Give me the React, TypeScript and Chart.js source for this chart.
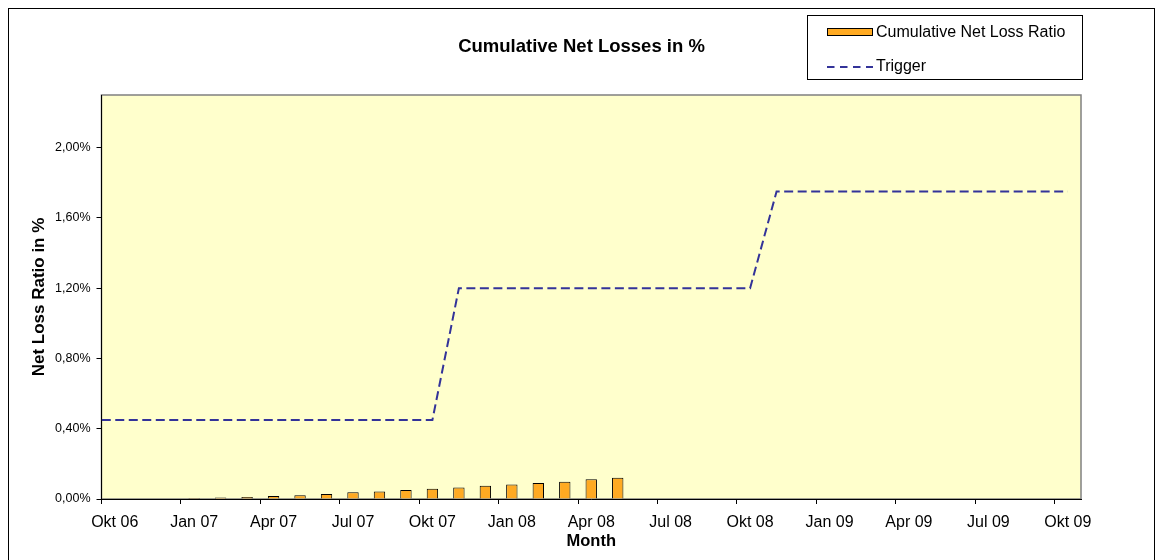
import React, { useEffect, useRef } from "react";
import { Chart, registerables } from "chart.js";

Chart.register(...registerables);

// ---- data ----
const chartTitle = "Cumulative Net Losses in %";
const xAxisTitle = "Month";
const yAxisTitle = "Net Loss Ratio in %";

// first category (Sep 06) is only a lead-in point for the trigger line, hidden by the axis min
const months = [
  "Sep 06", "Okt 06", "Nov 06", "Dez 06",
  "Jan 07", "Feb 07", "Mär 07", "Apr 07", "Mai 07", "Jun 07", "Jul 07", "Aug 07", "Sep 07", "Okt 07", "Nov 07", "Dez 07",
  "Jan 08", "Feb 08", "Mär 08", "Apr 08", "Mai 08", "Jun 08", "Jul 08", "Aug 08", "Sep 08", "Okt 08", "Nov 08", "Dez 08",
  "Jan 09", "Feb 09", "Mär 09", "Apr 09", "Mai 09", "Jun 09", "Jul 09", "Aug 09", "Sep 09", "Okt 09",
];
const firstMonth = "Okt 06";

// cumulative net loss ratio in %
const lossRatio = [
  null, null, null, null,
  0.006, 0.008, 0.011, 0.017, 0.021, 0.028, 0.038, 0.042, 0.051, 0.059, 0.066, 0.076,
  0.083, 0.091, 0.098, 0.112, 0.121, null, null, null, null, null, null, null,
  null, null, null, null, null, null, null, null, null, null,
];

// trigger level in %
const trigger = [
  0.45, 0.45, 0.45, 0.45,
  0.45, 0.45, 0.45, 0.45, 0.45, 0.45, 0.45, 0.45, 0.45, 0.45, 1.2, 1.2,
  1.2, 1.2, 1.2, 1.2, 1.2, 1.2, 1.2, 1.2, 1.2, 1.2, 1.75, 1.75,
  1.75, 1.75, 1.75, 1.75, 1.75, 1.75, 1.75, 1.75, 1.75, 1.75,
];

const yTicks = [0, 0.4, 0.8, 1.2, 1.6, 2.0];
const yMax = 2.3;

const barLabel = "Cumulative Net Loss Ratio";
const lineLabel = "Trigger";

// ---- styling ----
const W = 1147;
const H = 560;
const FONT = "'Liberation Sans', Arial, Helvetica, sans-serif";
const BAR_FILL = "#FFAA22";
const LINE_COLOR = "#333399";
const PLOT_BG = "#FFFFCC";

export default function App() {
  const ref = useRef<HTMLCanvasElement>(null);

  useEffect(() => {
    document.documentElement.style.overflow = "hidden";
    document.body.style.overflow = "hidden";
    const canvas = ref.current;
    if (!canvas) return;

    Chart.defaults.font.family = FONT;
    Chart.defaults.color = "#000";

    const decor = {
      id: "decor",
      beforeDraw(chart: any) {
        const { ctx, chartArea: a } = chart;
        ctx.save();
        ctx.fillStyle = "#fff";
        ctx.fillRect(0, 0, W, H);
        ctx.strokeStyle = "#000";
        ctx.lineWidth = 1;
        ctx.strokeRect(0.5, 0.5, W - 1, H - 1);
        ctx.fillStyle = PLOT_BG;
        ctx.fillRect(a.left, a.top, a.right - a.left, a.bottom - a.top);
        ctx.strokeStyle = "#808080";
        ctx.lineWidth = 1.5;
        ctx.strokeRect(a.left, a.top, a.right - a.left, a.bottom - a.top);
        ctx.restore();
      },
      afterDraw(chart: any) {
        const { ctx } = chart;
        ctx.save();
        // title
        ctx.fillStyle = "#000";
        ctx.font = `bold 18.5px ${FONT}`;
        ctx.textAlign = "center";
        ctx.textBaseline = "middle";
        ctx.fillText(chartTitle, W / 2, 39);

        // legend
        const lx = 799, ly = 7, lw = 275, lh = 64;
        ctx.fillStyle = "#fff";
        ctx.fillRect(lx, ly, lw, lh);
        ctx.strokeStyle = "#000";
        ctx.lineWidth = 1;
        ctx.strokeRect(lx + 0.5, ly + 0.5, lw, lh);

        const ds = chart.data.datasets;
        const barDs = ds.find((d: any) => d.type === "bar");
        const lineDs = ds.find((d: any) => d.type === "line");

        ctx.fillStyle = barDs.backgroundColor;
        ctx.fillRect(819, 20, 46, 8);
        ctx.strokeStyle = "#000";
        ctx.lineWidth = 1;
        ctx.strokeRect(819.5, 20.5, 45, 7);

        ctx.fillStyle = "#000";
        ctx.font = `16px ${FONT}`;
        ctx.textAlign = "left";
        ctx.textBaseline = "middle";
        ctx.fillText(barDs.label, 868, 24.5);

        ctx.strokeStyle = lineDs.borderColor;
        ctx.lineWidth = 2;
        ctx.setLineDash([7.5, 5.5]);
        ctx.beginPath();
        ctx.moveTo(819, 59);
        ctx.lineTo(865, 59);
        ctx.stroke();
        ctx.setLineDash([]);
        ctx.fillText(lineDs.label, 868, 59);
        ctx.restore();
      },
    };

    const chart = new Chart(canvas, {
      type: "bar",
      data: {
        labels: months,
        datasets: [
          {
            type: "line",
            label: lineLabel,
            data: trigger,
            borderColor: LINE_COLOR,
            borderWidth: 2,
            borderDash: [9, 4.5],
            pointRadius: 0,
            fill: false,
            tension: 0,
            clip: 0,
            order: 0,
          } as any,
          {
            type: "bar",
            label: barLabel,
            data: lossRatio,
            backgroundColor: BAR_FILL,
            borderColor: "#000",
            borderWidth: 1,
            barPercentage: 0.43,
            categoryPercentage: 1,
            order: 1,
          } as any,
        ],
      },
      options: {
        responsive: false,
        animation: false,
        devicePixelRatio: 1,
        layout: { padding: { left: 0, top: 87, right: 74, bottom: 13 } },
        plugins: {
          legend: { display: false },
          tooltip: { enabled: false },
          title: { display: false },
        },
        scales: {
          x: {
            type: "category",
            min: firstMonth,
            offset: true,
            grid: {
              offset: true,
              drawOnChartArea: false,
              drawTicks: true,
              tickLength: 5,
              color: "#000",
              tickColor: (c: any) =>
                c.type === "tick" && c.index % 3 === 0 ? "#000" : "rgba(0,0,0,0)",
            },
            border: { display: true, color: "#000", width: 1 },
            ticks: {
              autoSkip: false,
              maxRotation: 0,
              minRotation: 0,
              padding: 9,
              color: "#000",
              font: { size: 16 },
              callback: function (this: any, value: any, index: number) {
                return index % 3 === 0 ? this.getLabelForValue(value) : "";
              },
            },
            title: {
              display: true,
              text: xAxisTitle,
              color: "#000",
              font: { size: 16.5, weight: "bold" },
              padding: { top: 0, bottom: 3.6 },
            },
            afterFit: (s: any) => {
              s.height = 56;
            },
          } as any,
          y: {
            type: "linear",
            min: 0,
            max: yMax,
            afterBuildTicks: (s: any) => {
              s.ticks = yTicks.map((v) => ({ value: v }));
            },
            grid: {
              drawOnChartArea: false,
              drawTicks: true,
              tickLength: 5,
              color: "#000",
            },
            border: { display: true, color: "#000", width: 1 },
            ticks: {
              padding: 6,
              color: "#000",
              font: { size: 12.5 },
              callback: (v: any) => Number(v).toFixed(2).replace(".", ",") + "%",
            },
            title: {
              display: true,
              text: yAxisTitle,
              color: "#000",
              font: { size: 17, weight: "bold" },
              padding: { top: 21, bottom: 0 },
            },
            afterFit: (s: any) => {
              s.width = 93.5;
            },
          } as any,
        },
      },
      plugins: [decor],
    });

    return () => chart.destroy();
  }, []);

  return (
    <canvas
      ref={ref}
      width={W}
      height={H}
      style={{ display: "block", width: W, height: H }}
    />
  );
}
